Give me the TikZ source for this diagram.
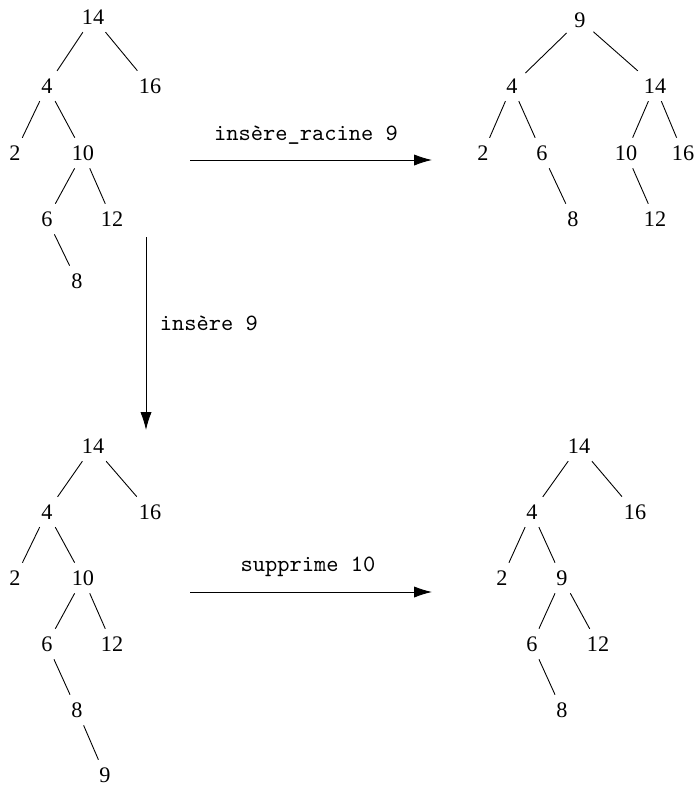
\documentclass[tikz,border=0pt]{standalone}
\usepackage{fontspec}
\setmainfont{Liberation Serif}
\usetikzlibrary{arrows.meta}
\begin{document}
\begin{tikzpicture}[x=0.45pt,y=-0.45pt,font=\fontsize{10}{12}\selectfont]
        \useasboundingbox (0,0) rectangle (696,785);
        \tikzset{op/.style={font=\ttfamily\fontsize{10.5}{12}\selectfont},
                 fl/.style={-{Latex[length=8pt,width=5pt]}}}
        % arbre de depart
        \node (a14) at (93,17) {14};
        \node (a4) at (47,86) {4};
        \node (a16) at (150,86) {16};
        \node (a2) at (15,153) {2};
        \node (a10) at (83,153) {10};
        \node (a6) at (47,219) {6};
        \node (a12) at (112,219) {12};
        \node (a8) at (77,281) {8};
        \draw (a14) -- (a4);
        \draw (a14) -- (a16);
        \draw (a4) -- (a2);
        \draw (a4) -- (a10);
        \draw (a10) -- (a6);
        \draw (a10) -- (a12);
        \draw (a6) -- (a8);
        % insertion a la racine
        \node (b9) at (580,20) {9};
        \node (b4) at (512,86) {4};
        \node (b14) at (655,86) {14};
        \node (b2) at (483,153) {2};
        \node (b6) at (542,153) {6};
        \node (b10) at (626,153) {10};
        \node (b16) at (683,153) {16};
        \node (b8) at (573,219) {8};
        \node (b12) at (655,219) {12};
        \draw (b9) -- (b4);
        \draw (b9) -- (b14);
        \draw (b4) -- (b2);
        \draw (b4) -- (b6);
        \draw (b6) -- (b8);
        \draw (b14) -- (b10);
        \draw (b14) -- (b16);
        \draw (b10) -- (b12);
        % insertion aux feuilles
        \node (c14) at (93,446) {14};
        \node (c4) at (47,512) {4};
        \node (c16) at (150,512) {16};
        \node (c2) at (15,578) {2};
        \node (c10) at (83,578) {10};
        \node (c6) at (47,644) {6};
        \node (c12) at (112,644) {12};
        \node (c8) at (77,710) {8};
        \node (c9) at (105,775) {9};
        \draw (c14) -- (c4);
        \draw (c14) -- (c16);
        \draw (c4) -- (c2);
        \draw (c4) -- (c10);
        \draw (c10) -- (c6);
        \draw (c10) -- (c12);
        \draw (c6) -- (c8);
        \draw (c8) -- (c9);
        % suppression
        \node (d14) at (579,446) {14};
        \node (d4) at (532,512) {4};
        \node (d16) at (635,512) {16};
        \node (d2) at (502,578) {2};
        \node (d9) at (562,578) {9};
        \node (d6) at (532,644) {6};
        \node (d12) at (598,644) {12};
        \node (d8) at (562,710) {8};
        \draw (d14) -- (d4);
        \draw (d14) -- (d16);
        \draw (d4) -- (d2);
        \draw (d4) -- (d9);
        \draw (d9) -- (d6);
        \draw (d9) -- (d12);
        \draw (d6) -- (d8);
        % operations
        \coordinate (h0) at (190,160);
        \coordinate (h1) at (432,160);
        \draw[fl] (h0) -- (h1);
        \node[op] (lh) at (306,135) {insère\_racine 9};
        \coordinate (v0) at (146,237);
        \coordinate (v1) at (146,430);
        \draw[fl] (v0) -- (v1);
        \node[op,anchor=west] (lv) at (152,323) {insère 9};
        \coordinate (s0) at (190,592);
        \coordinate (s1) at (432,592);
        \draw[fl] (s0) -- (s1);
        \node[op] (ls) at (308,567) {supprime 10};
\end{tikzpicture}
\end{document}
